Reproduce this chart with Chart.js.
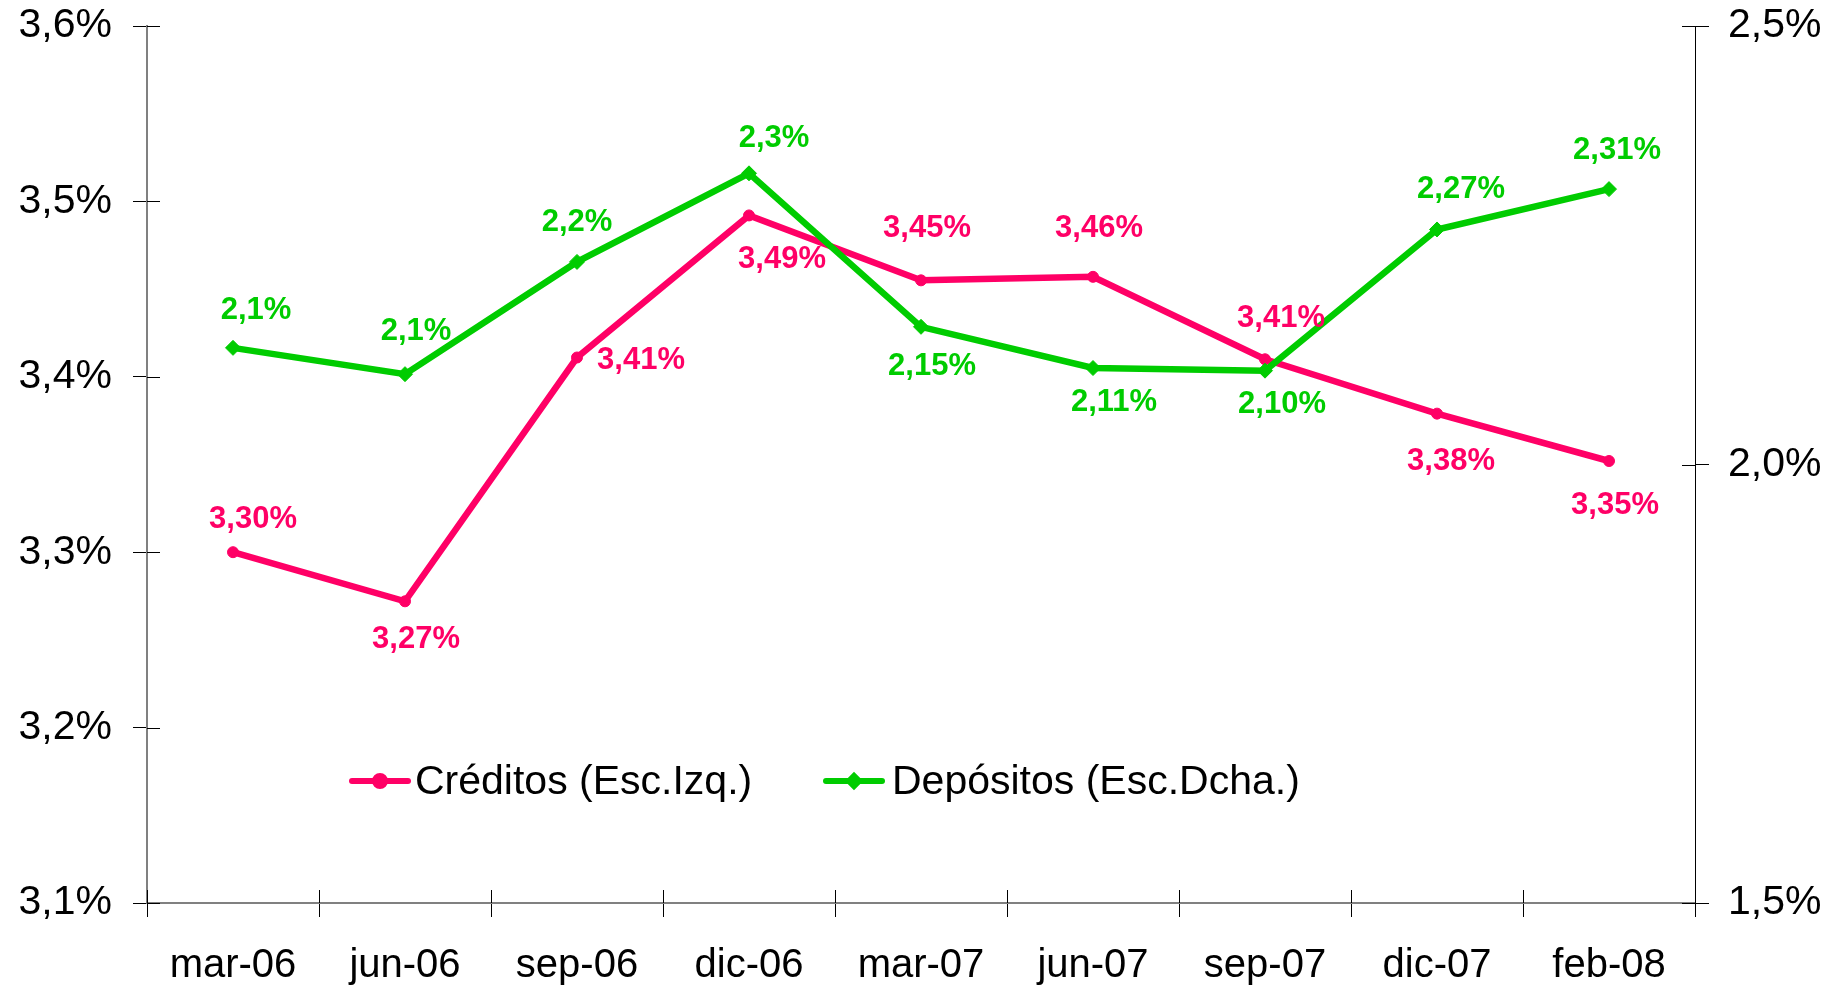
<!DOCTYPE html>
<html>
<head>
<meta charset="utf-8">
<script src="https://cdn.jsdelivr.net/npm/chart.js@4.4.1/dist/chart.umd.min.js"></script>
<style>
  html, body { margin: 0; padding: 0; background: #fff; }
  #zona { width: 1843px; height: 990px; }
</style>
</head>
<body>
<div id="zona"><canvas id="graf" width="1843" height="990"></canvas></div>
<script>
// Datos
const periodos = ['mar-06', 'jun-06', 'sep-06', 'dic-06', 'mar-07', 'jun-07', 'sep-07', 'dic-07', 'feb-08'];
const creditos = [3.30, 3.272, 3.411, 3.492, 3.455, 3.457, 3.410, 3.379, 3.352];
const depositos = [2.133, 2.103, 2.231, 2.332, 2.157, 2.110, 2.107, 2.268, 2.314];
const etiqCreditos = ['3,30%', '3,27%', '3,41%', '3,49%', '3,45%', '3,46%', '3,41%', '3,38%', '3,35%'];
const etiqDepositos = ['2,1%', '2,1%', '2,2%', '2,3%', '2,15%', '2,11%', '2,10%', '2,27%', '2,31%'];
const ticksIzq = [3.1, 3.2, 3.3, 3.4, 3.5, 3.6];
const ticksDcha = [1.5, 2.0, 2.5];

// Desplazamiento de cada etiqueta respecto a su punto (px)
const despCreditos = [[20, -33], [11, 38], [64, 3], [33, 44], [6, -52], [6, -48], [16, -41], [14, 48], [6, 44]];
const despDepositos = [[23, -37], [11, -43], [0, -39], [25, -35], [11, 40], [21, 34], [17, 34], [24, -40], [8, -39]];

const ROSA = '#FF0066';
const VERDE = '#00CC00';
const fuente = '"Liberation Sans", Arial, sans-serif';

function formato(v, dec) {
    return v.toFixed(dec).replace('.', ',') + '%';
}

// Etiquetas de valor junto a cada punto
const etiquetas = {
    id: 'etiquetas',
    afterDatasetsDraw(chart) {
        const ctx = chart.ctx;
        ctx.save();
        ctx.font = 'bold 31px ' + fuente;
        ctx.textAlign = 'center';
        ctx.textBaseline = 'middle';
        chart.data.datasets.forEach((ds, i) => {
            const meta = chart.getDatasetMeta(i);
            meta.data.forEach((pt, j) => {
                ctx.fillStyle = ds.borderColor;
                ctx.fillText(ds.etiquetas[j], pt.x + ds.desp[j][0], pt.y + ds.desp[j][1]);
            });
        });
        ctx.restore();
    }
};

// Marcas que cruzan los ejes y leyenda dentro del área
const extras = {
    id: 'extras',
    afterDraw(chart) {
        const ctx = chart.ctx;
        const x = chart.scales.x, y = chart.scales.y, y1 = chart.scales.y1;
        ctx.save();
        ctx.strokeStyle = '#000';
        ctx.lineWidth = 1;
        const n = periodos.length;
        const paso = (x.right - x.left) / n;
        for (let k = 0; k <= n; k++) {
            const px = Math.round(x.left + k * paso) + 0.5;
            ctx.beginPath(); ctx.moveTo(px, y.bottom); ctx.lineTo(px, y.bottom - 13); ctx.stroke();
        }
        ticksIzq.forEach(v => {
            const py = Math.round(y.getPixelForValue(v)) + 0.5;
            ctx.beginPath(); ctx.moveTo(y.right, py); ctx.lineTo(y.right + 13, py); ctx.stroke();
        });
        ticksDcha.forEach(v => {
            const py = Math.round(y1.getPixelForValue(v)) + 0.5;
            ctx.beginPath(); ctx.moveTo(y1.left, py); ctx.lineTo(y1.left - 13, py); ctx.stroke();
        });

        // leyenda
        const ly = 781;
        const items = [
            {x0: 352, x1: 408, tx: 415, color: ROSA, estilo: 'circle', texto: 'Créditos (Esc.Izq.)'},
            {x0: 826, x1: 882, tx: 892, color: VERDE, estilo: 'rectRot', texto: 'Depósitos (Esc.Dcha.)'}
        ];
        ctx.font = '41px ' + fuente;
        ctx.textBaseline = 'middle';
        ctx.textAlign = 'left';
        items.forEach(it => {
            ctx.strokeStyle = it.color;
            ctx.fillStyle = it.color;
            ctx.lineWidth = 6;
            ctx.lineCap = 'round';
            ctx.beginPath(); ctx.moveTo(it.x0, ly); ctx.lineTo(it.x1, ly); ctx.stroke();
            Chart.helpers.drawPoint(ctx, {pointStyle: it.estilo, radius: 5, borderWidth: 1}, (it.x0 + it.x1) / 2, ly);
            ctx.fillStyle = '#000';
            ctx.fillText(it.texto, it.tx, ly + 2);
        });
        ctx.restore();
    }
};

function sinRelleno(s) {
    s.paddingTop = 0;
    s.paddingBottom = 0;
}

const ctx = document.getElementById('graf').getContext('2d');
new Chart(ctx, {
    type: 'line',
    data: {
        labels: periodos,
        datasets: [
            {
                label: 'Créditos (Esc.Izq.)',
                data: creditos,
                etiquetas: etiqCreditos,
                desp: despCreditos,
                borderColor: ROSA,
                backgroundColor: ROSA,
                borderWidth: 6.5,
                pointStyle: 'circle',
                pointRadius: 5.5,
                pointBorderWidth: 1,
                tension: 0,
                yAxisID: 'y',
                order: 1
            },
            {
                label: 'Depósitos (Esc.Dcha.)',
                data: depositos,
                etiquetas: etiqDepositos,
                desp: despDepositos,
                borderColor: VERDE,
                backgroundColor: VERDE,
                borderWidth: 6.5,
                pointStyle: 'rectRot',
                pointRadius: 7.5,
                pointBorderWidth: 1,
                tension: 0,
                yAxisID: 'y1',
                order: 0
            }
        ]
    },
    options: {
        responsive: false,
        animation: false,
        layout: {padding: {top: 26, left: 0, right: 0, bottom: 0}},
        plugins: {legend: {display: false}, tooltip: {enabled: false}},
        scales: {
            x: {
                offset: true,
                grid: {offset: true, drawOnChartArea: false, drawTicks: true, tickLength: 14, color: '#000', lineWidth: 1},
                border: {display: true, color: '#808080', width: 2},
                ticks: {color: '#000', font: {family: fuente, size: 40}, padding: 25, maxRotation: 0, autoSkip: false},
                afterFit(s) { s.height = 87; s.paddingLeft = 0; s.paddingRight = 0; }
            },
            y: {
                position: 'left',
                min: 3.1, max: 3.6,
                afterBuildTicks(s) { s.ticks = ticksIzq.map(v => ({value: v})); },
                grid: {drawOnChartArea: false, drawTicks: true, tickLength: 14, color: '#000', lineWidth: 1},
                border: {display: true, color: '#808080', width: 2},
                ticks: {color: '#000', font: {family: fuente, size: 41}, padding: 21, callback: v => formato(v, 1)},
                afterFit(s) { s.width = 147; sinRelleno(s); }
            },
            y1: {
                position: 'right',
                min: 1.5, max: 2.5,
                afterBuildTicks(s) { s.ticks = ticksDcha.map(v => ({value: v})); },
                grid: {drawOnChartArea: false, drawTicks: true, tickLength: 14, color: '#000', lineWidth: 1},
                border: {display: true, color: '#000', width: 1},
                ticks: {color: '#000', font: {family: fuente, size: 41}, padding: 19, callback: v => formato(v, 1)},
                afterFit(s) { s.width = 148; sinRelleno(s); }
            }
        }
    },
    plugins: [etiquetas, extras]
});
</script>
</body>
</html>
